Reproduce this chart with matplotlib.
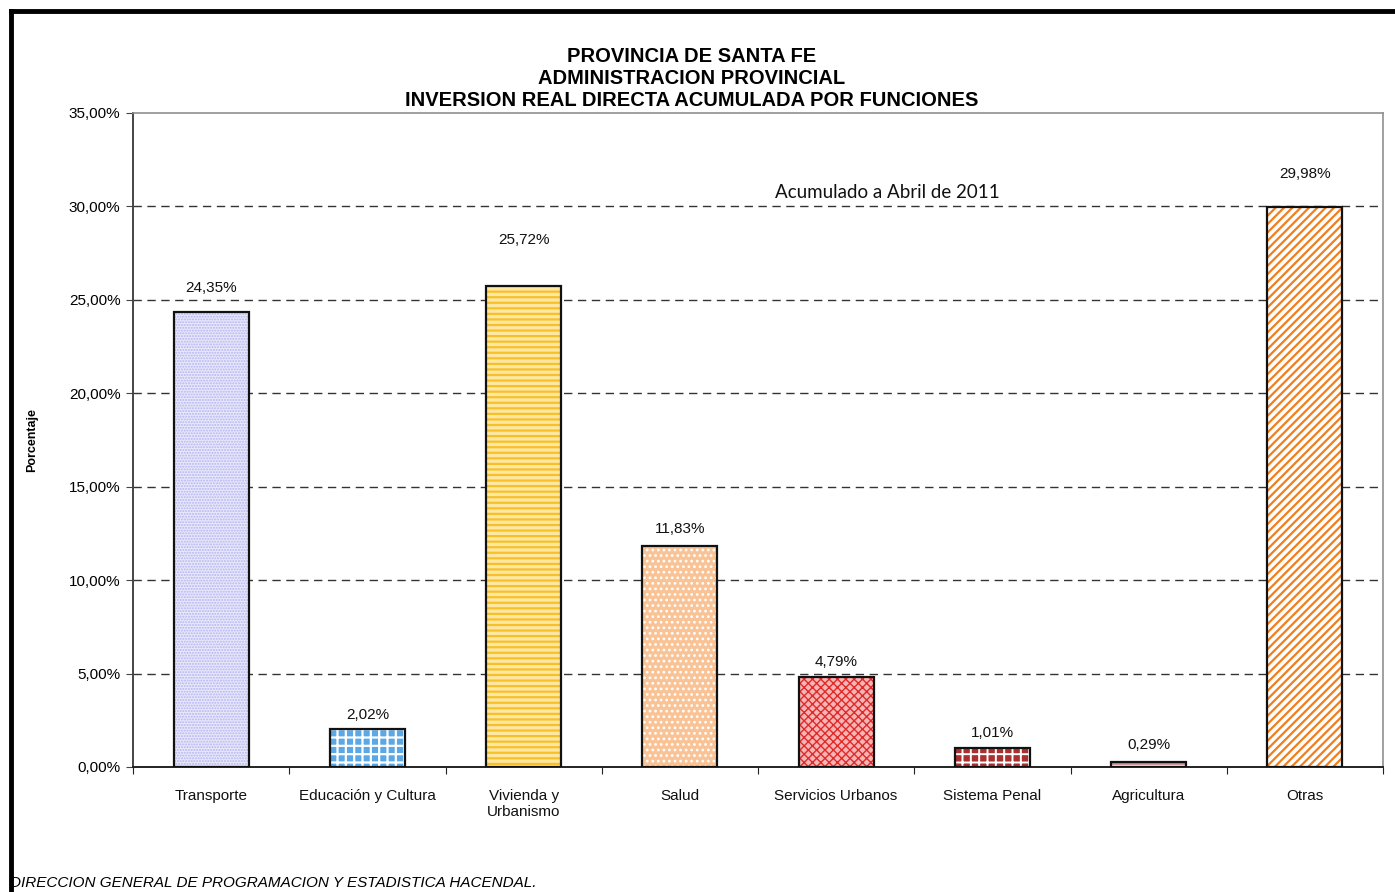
import matplotlib
matplotlib.use("Agg")
import matplotlib.pyplot as plt
from matplotlib.lines import Line2D
from matplotlib.ticker import FuncFormatter, MultipleLocator
from matplotlib.transforms import offset_copy

categories = ["Transporte", "Educación y Cultura", "Vivienda y\nUrbanismo", "Salud",
              "Servicios Urbanos", "Sistema Penal", "Agricultura", "Otras"]
values = [24.35, 2.02, 25.72, 11.83, 4.79, 1.01, 0.29, 29.98]
value_labels = ["24,35%", "2,02%", "25,72%", "11,83%", "4,79%", "1,01%", "0,29%", "29,98%"]
title_lines = ["PROVINCIA DE SANTA FE", "ADMINISTRACION PROVINCIAL",
               "INVERSION REAL DIRECTA ACUMULADA POR FUNCIONES"]
note_text = "Acumulado a Abril de 2011"
footer_text = "DIRECCION GENERAL DE PROGRAMACION Y ESTADISTICA HACENDAL."

# styles (fill, hatch, hatch colour, hatch linewidth)
styles = [
    ("#e9e9fc", "......", "#b4b4f0", 1.0),
    ("#5aa8e6", "++", "#ffffff", 1.6),
    ("#ffe7a0", "---", "#f5c02c", 1.6),
    ("#f9c396", "...", "#ffffff", 1.2),
    ("#f6b4b4", "xxxx", "#e02a2a", 1.0),
    ("#a83030", "++", "#ffffff", 1.4),
    ("#f8e4e4", "---", "#c08080", 1.2),
    ("#ffffff", "////", "#f07f1e", 1.6),
]
label_offsets_px = [24, 14, 46, 17, 15, 15, 17, 33]

plt.rcParams['font.family'] = ['Liberation Sans', 'DejaVu Sans']

fig = plt.figure(figsize=(13.95, 8.92), dpi=100)
ax = fig.add_axes([133/1395, 1 - 767/892, 1250/1395, 654/892])

for i, (v, (fc, h, hc, hlw)) in enumerate(zip(values, styles)):
    with plt.rc_context({'hatch.linewidth': hlw}):
        ax.bar(i, v, width=0.48, color=fc, hatch=h, edgecolor=hc, linewidth=0, zorder=3)
    ax.bar(i, v, width=0.48, fill=False, edgecolor="#111111", linewidth=1.6, zorder=4)
    tr = offset_copy(ax.transData, fig=fig, x=0, y=label_offsets_px[i] * 72 / 100, units='points')
    ax.text(i, v, value_labels[i], transform=tr, ha='center', va='center', fontsize=11, color="#111111")

ax.set_xlim(-0.5, len(categories) - 0.5)
ax.set_ylim(0, 35)
ax.yaxis.set_major_locator(MultipleLocator(5))
ax.yaxis.set_major_formatter(FuncFormatter(lambda v, p: f"{v:.2f}".replace(".", ",") + "%"))
ax.tick_params(axis='y', labelsize=11, length=5, direction='out', color="#444444", pad=4)
ax.set_xticks([i - 0.5 for i in range(len(categories) + 1)])
ax.set_xticklabels([])
ax.tick_params(axis='x', length=5, direction='out', color="#222222")
for i, c in enumerate(categories):
    ax.text(i, -0.033, c, transform=ax.get_xaxis_transform(), ha='center', va='top',
            fontsize=11, color="#111111", linespacing=1.25)

for yv in range(5, 35, 5):
    ax.axhline(yv, color="#333333", lw=1.0, ls=(0, (6, 4)), zorder=1)

for s in ['top', 'right']:
    ax.spines[s].set_color("#909090")
    ax.spines[s].set_linewidth(1.2)
ax.spines['left'].set_color("#444444")
ax.spines['left'].set_linewidth(1.4)
ax.spines['bottom'].set_color("#222222")
ax.spines['bottom'].set_linewidth(1.4)

ax.set_ylabel("Porcentaje", fontsize=9, fontweight='bold')
ax.yaxis.set_label_coords((38 - 133) / 1250, 0.5)

ax.text(4.33, 30.72, note_text, ha='center', va='center', fontsize=13.5,
        family=['Lato', 'DejaVu Sans'], color="#111111")

title_y = [56, 78, 100]
for t, yy in zip(title_lines, title_y):
    fig.text(692/1395, 1 - yy/892, t, ha='center', va='center', fontsize=14.5, fontweight='bold')

fig.text(10/1395, 1 - 883/892, footer_text, ha='left', va='center', fontsize=11, style='italic')

# outer frame (left and top visible)
fig.add_artist(Line2D([11/1395, 11/1395], [0, 1 - 11/892], transform=fig.transFigure, color='black', lw=3.5))
fig.add_artist(Line2D([11/1395, 1], [1 - 11/892, 1 - 11/892], transform=fig.transFigure, color='black', lw=3.5))

fig.savefig("out.png", dpi=100)
